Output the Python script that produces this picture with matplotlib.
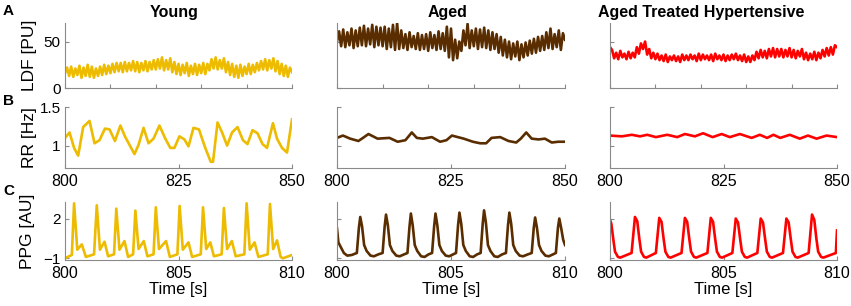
import numpy as np
import matplotlib
matplotlib.use('Agg')
import matplotlib.pyplot as plt

plt.rcParams['font.family'] = ['Liberation Sans', 'DejaVu Sans']

# colores por grupo
grupos = ['Young', 'Aged', 'Aged Treated Hypertensive']
colores = ['#EDBB00', '#5A2D00', '#FF0000']

# LDF: picos (hi) y valles (lo) alternados, 800-850 s
ldf_young_hi = [22, 23, 21, 24, 22, 25, 23, 21, 23,
                25, 24, 26, 27,
                27, 28, 27, 29, 28, 27, 29, 28, 30,
                31, 33, 30, 32,
                28, 26, 25, 27, 24, 26, 25, 27, 26,
                31, 33, 30, 32,
                28, 26, 24, 25, 23, 26,
                25, 27,
                29, 31, 30, 32, 29,
                26, 24, 22]
ldf_young_lo = [16, 13, 12, 14, 11, 13, 12, 11, 13,
                14, 15, 16, 17,
                18, 17, 18, 19, 18, 17, 19, 18, 20,
                20, 21, 19, 20,
                17, 15, 14, 16, 13, 15, 14, 16, 15,
                19, 21, 20, 21,
                17, 14, 12, 11, 13, 15,
                15, 17,
                19, 20, 19, 21, 18,
                15, 13, 12, 17]

ldf_aged_hi = [61, 63, 60, 64, 62, 65,
               67, 64, 68, 66, 65,
               66, 64, 68, 70,
               62, 58, 60, 56, 59, 57,
               58, 60, 57, 61, 59,
               66, 64,
               52, 50,
               62, 69,
               62, 64, 63, 65, 62,
               60, 58,
               55, 52, 50, 48, 50, 47, 49,
               51, 53, 55,
               56, 60, 64,
               58, 62, 59]
ldf_aged_lo = [50, 45, 44, 46, 43, 45,
               46, 45, 47, 44, 46,
               45, 42, 44, 41,
               42, 43, 41, 44, 42, 41,
               42, 40, 43, 41, 42,
               40, 33,
               30, 32,
               40, 46,
               43, 45, 42, 44, 43,
               41, 42,
               38, 35, 33, 31, 34, 30, 33,
               35, 37, 38,
               40, 41, 43,
               42, 44, 41, 52]

ldf_treated_hi = [41, 38, 40, 37, 39, 38,
                  44, 48,
                  50,
                  42, 38, 37,
                  35, 36, 34, 35, 34, 36, 35,
                  36, 35, 37, 36, 35, 36, 37, 35, 36, 35, 36, 37, 35, 36,
                  34, 35,
                  39, 41, 40, 42, 43, 42,
                  42, 41, 43, 41, 40, 42,
                  38, 37, 39, 38,
                  41, 43, 44, 46]
ldf_treated_lo = [44, 32, 31, 33, 31, 32,
                  33, 37,
                  42,
                  36, 32, 31,
                  30, 29, 28, 30, 29, 28, 30,
                  30, 31, 29, 30, 31, 30, 29, 31, 30, 29, 30, 31, 30, 29,
                  28, 28,
                  30, 32, 33, 32, 34, 33,
                  34, 33, 34, 33, 32, 34,
                  31, 30, 31, 30,
                  32, 34, 35, 36, 44]

# RR [Hz]
rr_young_t = [800, 801, 802, 802.9, 804, 805.4, 806.5, 807.6, 808.8, 809.8, 811,
              812.2, 813.2, 815.3, 816.2, 817.3, 818.4, 819.5, 820.8, 822.1, 823.2,
              824.1, 825.2, 826.3, 827.2, 828.3, 829.5, 830.9, 832.1, 832.6, 833.6,
              834.6, 835.7, 836.8, 838, 839.2, 840.2, 841.3, 842.4, 843.5, 844.5,
              845.8, 846.7, 847.8, 848.9, 850]
rr_young = [1.10, 1.17, 0.97, 0.87, 1.24, 1.32, 1.03, 1.07, 1.22, 1.21, 1.06,
            1.26, 1.12, 0.89, 1.01, 1.23, 1.03, 1.09, 1.26, 1.09, 0.97,
            0.97, 1.12, 1.08, 0.99, 1.23, 1.21, 0.97, 0.79, 0.79, 1.30,
            1.17, 1.00, 1.17, 1.24, 1.07, 1.02, 1.20, 1.16, 1.02, 0.97,
            1.29, 1.09, 0.97, 0.91, 1.34]

rr_aged_t = [800, 801.3, 802.9, 804.7, 805.7, 806.9, 808.9, 811.5, 813.3, 815,
             816.4, 817.5, 818.8, 820.8, 822.6, 824, 825.2, 827.8, 829.8, 831.4,
             832.7, 833.9, 835.8, 837.6, 839.3, 840.3, 841.5, 842.7, 844.2, 845.6,
             847.1, 848.5, 850]
rr_aged = [1.10, 1.13, 1.09, 1.06, 1.10, 1.15, 1.09, 1.10, 1.05, 1.07,
           1.17, 1.10, 1.09, 1.11, 1.05, 1.07, 1.13, 1.09, 1.05, 1.03,
           1.03, 1.10, 1.11, 1.06, 1.04, 1.09, 1.17, 1.09, 1.08, 1.09,
           1.04, 1.05, 1.05]

rr_treated_t = [800, 802.6, 804.8, 806.6, 808.2, 810.1, 812.6, 814.8, 816.5, 818.7,
                820.5, 822.6, 824.6, 826.4, 828.6, 831.2, 833, 834.6, 836, 837.5,
                839.6, 841.8, 843.6, 845.5, 847.7, 850]
rr_treated = [1.13, 1.12, 1.14, 1.12, 1.14, 1.11, 1.14, 1.11, 1.15, 1.12,
              1.16, 1.11, 1.15, 1.11, 1.15, 1.10, 1.14, 1.10, 1.14, 1.10,
              1.14, 1.09, 1.13, 1.09, 1.13, 1.11]

# PPG [AU], 800-810 s
ppg_young_t = [800.00, 800.30, 800.40, 800.54, 800.74, 800.92, 801.28,
               801.40, 801.54, 801.74, 801.90, 802.16,
               802.26, 802.40, 802.62, 802.78, 803.00,
               803.10, 803.24, 803.47, 803.63, 803.90,
               804.00, 804.14, 804.45, 804.62, 804.95,
               805.05, 805.19, 805.44, 805.60, 805.98,
               806.08, 806.22, 806.40, 806.56, 806.90,
               807.00, 807.14, 807.35, 807.52, 807.90,
               808.00, 808.14, 808.35, 808.52, 808.93,
               809.03, 809.17, 809.34, 809.50, 809.60, 810.00]
ppg_young = [-1.0, -0.75, 3.15, -0.35, 0.05, -0.9, -0.7,
             3.0, -0.35, 0.25, -0.85, -0.7,
             2.75, -0.35, 0.3, -0.9, -0.7,
             2.6, -0.3, 0.3, -0.85, -0.7,
             2.85, -0.3, 0.3, -0.9, -0.7,
             2.95, -0.35, 0.2, -0.9, -0.7,
             2.85, -0.3, 0.2, -0.85, -0.7,
             2.8, -0.3, 0.3, -0.85, -0.7,
             3.15, -0.35, 0.2, -0.9, -0.7,
             3.1, -0.3, 0.35, -0.9, -1.0, -0.75]

ppg_aged_t = [800.00, 800.06, 800.15, 800.30, 800.45, 800.65, 800.87,
              800.96, 801.02, 801.10, 801.19, 801.30, 801.47, 801.62, 801.82, 802.00,
              802.09, 802.15, 802.23, 802.32, 802.43, 802.60, 802.75, 802.95, 803.09,
              803.18, 803.24, 803.32, 803.41, 803.52, 803.69, 803.84, 804.02, 804.17,
              804.26, 804.32, 804.40, 804.49, 804.60, 804.77, 804.92, 805.10, 805.22,
              805.31, 805.37, 805.45, 805.54, 805.65, 805.82, 805.97, 806.15, 806.30,
              806.39, 806.45, 806.53, 806.62, 806.73, 806.90, 807.05, 807.25, 807.41,
              807.50, 807.56, 807.64, 807.73, 807.84, 808.01, 808.16, 808.38, 808.54,
              808.63, 808.69, 808.77, 808.86, 808.97, 809.14, 809.29, 809.48, 809.60,
              809.69, 809.75, 809.83, 809.92, 810.00]
ppg_aged = [1.25, 0.2, -0.1, -0.6, -0.8, -0.75, -0.6,
            1.3, 2.12, 1.4, 0.0, -0.45, -0.8, -0.85, -0.7, -0.6,
            1.4, 2.30, 1.5, 0.0, -0.45, -0.8, -0.85, -0.7, -0.6,
            1.4, 2.38, 1.5, 0.0, -0.45, -0.85, -0.9, -0.7, -0.6,
            1.4, 2.38, 1.5, 0.0, -0.45, -0.8, -0.85, -0.7, -0.6,
            1.5, 2.45, 1.6, 0.0, -0.45, -0.85, -0.9, -0.7, -0.6,
            1.6, 2.62, 1.7, 0.0, -0.45, -0.85, -0.9, -0.7, -0.6,
            1.5, 2.45, 1.6, 0.0, -0.45, -0.8, -0.85, -0.7, -0.6,
            1.3, 2.08, 1.3, 0.0, -0.45, -0.8, -0.85, -0.7, -0.6,
            1.3, 2.0, 1.3, 0.4, 0.0]

ppg_treated_t = [800.00, 800.06, 800.14, 800.22, 800.35, 800.45, 800.95,
                 801.10, 801.20, 801.29, 801.37, 801.50, 801.60, 802.02,
                 802.17, 802.27, 802.36, 802.44, 802.57, 802.67, 803.15,
                 803.30, 803.40, 803.49, 803.57, 803.70, 803.80, 804.29,
                 804.44, 804.54, 804.63, 804.71, 804.84, 804.94, 805.39,
                 805.54, 805.64, 805.73, 805.81, 805.94, 806.04, 806.49,
                 806.64, 806.74, 806.83, 806.91, 807.04, 807.14, 807.62,
                 807.77, 807.87, 807.96, 808.04, 808.17, 808.27, 808.75,
                 808.90, 809.00, 809.09, 809.17, 809.30, 809.40, 809.95, 810.00]
ppg_treated = [1.9, 1.6, 0.5, -0.5, -0.9, -0.95, -0.6,
               2.12, 1.8, 0.5, -0.5, -0.9, -0.95, -0.6,
               2.05, 1.75, 0.5, -0.5, -0.9, -0.95, -0.6,
               2.05, 1.75, 0.5, -0.5, -0.9, -0.95, -0.6,
               2.05, 1.75, 0.5, -0.5, -0.9, -0.95, -0.6,
               2.0, 1.7, 0.5, -0.5, -0.9, -0.95, -0.6,
               2.0, 1.7, 0.5, -0.5, -0.9, -0.95, -0.6,
               2.0, 1.7, 0.5, -0.5, -0.9, -0.95, -0.6,
               2.3, 1.9, 0.5, -0.5, -0.9, -0.95, -0.6, 1.1]


def intercalar(lo, hi):
    # valle, pico, valle, pico, ..., valle
    vals = np.empty(len(lo) + len(hi))
    vals[0::2] = lo
    vals[1::2] = hi
    return vals


ldf = [intercalar(ldf_young_lo, ldf_young_hi),
       intercalar(ldf_aged_lo, ldf_aged_hi),
       intercalar(ldf_treated_lo, ldf_treated_hi)]
rr = [(rr_young_t, rr_young), (rr_aged_t, rr_aged), (rr_treated_t, rr_treated)]
ppg = [(ppg_young_t, ppg_young), (ppg_aged_t, ppg_aged), (ppg_treated_t, ppg_treated)]

fig = plt.figure(figsize=(8.51, 3.06), dpi=100)

lefts = [65 / 851, 337 / 851, 610 / 851]
anchos = [227 / 851, 228 / 851, 227 / 851]
filas = [(1 - 88 / 306, 65 / 306), (1 - 168 / 306, 61 / 306), (1 - 260 / 306, 58 / 306)]

gris = '#8a8a8a'
lw = 1.9
x_ylabel = -0.125


def estilo(ax):
    for s in ['top', 'right']:
        ax.spines[s].set_visible(False)
    for s in ['left', 'bottom']:
        ax.spines[s].set_color(gris)
        ax.spines[s].set_linewidth(0.8)
    ax.tick_params(direction='in', length=3, width=0.8, color=gris,
                   labelsize=11, labelcolor='black', pad=3)


for c in range(3):
    # fila A: LDF
    ax = fig.add_axes([lefts[c], filas[0][0], anchos[c], filas[0][1]])
    t = np.linspace(800, 850, len(ldf[c]))
    ax.plot(t, ldf[c], color=colores[c], lw=lw)
    ax.set_xlim(800, 850)
    ax.set_ylim(0, 70)
    ax.set_xticks([800, 810, 820, 830, 840, 850])
    ax.set_xticklabels([])
    ax.set_yticks([0, 50])
    estilo(ax)
    if c == 0:
        ax.set_ylabel('LDF [PU]', fontsize=12.5)
        ax.yaxis.set_label_coords(x_ylabel, 0.5)
    else:
        ax.set_yticklabels([])

    # fila B: RR
    ax = fig.add_axes([lefts[c], filas[1][0], anchos[c], filas[1][1]])
    ax.plot(rr[c][0], rr[c][1], color=colores[c], lw=lw)
    ax.set_xlim(800, 850)
    ax.set_ylim(0.71, 1.5)
    ax.set_xticks([800, 825, 850])
    ax.set_yticks([1, 1.5])
    estilo(ax)
    ax.tick_params(axis='x', labelsize=11.5, pad=4)
    if c == 0:
        ax.set_yticklabels(['1', '1.5'])
        ax.set_ylabel('RR [Hz]', fontsize=12.5)
        ax.yaxis.set_label_coords(x_ylabel, 0.5)
    else:
        ax.set_yticklabels([])

    # fila C: PPG
    ax = fig.add_axes([lefts[c], filas[2][0], anchos[c], filas[2][1]])
    ax.plot(ppg[c][0], ppg[c][1], color=colores[c], lw=lw)
    ax.set_xlim(800, 810)
    ax.set_ylim(-1.13, 3.25)
    ax.set_xticks([800, 805, 810])
    ax.set_yticks([-1, 2])
    estilo(ax)
    ax.tick_params(axis='x', labelsize=11.5, pad=4)
    ax.set_xlabel('Time [s]', fontsize=12, labelpad=1)
    if c == 0:
        ax.set_ylabel('PPG [AU]', fontsize=12.5)
        ax.yaxis.set_label_coords(x_ylabel - 0.005, 0.5)
    else:
        ax.set_yticklabels([])

# titulos de columnas
xs_titulo = [174 / 851, 448 / 851, 701 / 851]
for c in range(3):
    fig.text(xs_titulo[c], 1 - 12 / 306, grupos[c], ha='center', va='center',
             fontsize=11.5, fontweight='bold')

# letras de panel
for letra, y in zip(['A', 'B', 'C'], [11, 101, 191]):
    fig.text(3 / 851, 1 - y / 306, letra, ha='left', va='center',
             fontsize=11, fontweight='bold')

fig.savefig('out.png', dpi=100)
